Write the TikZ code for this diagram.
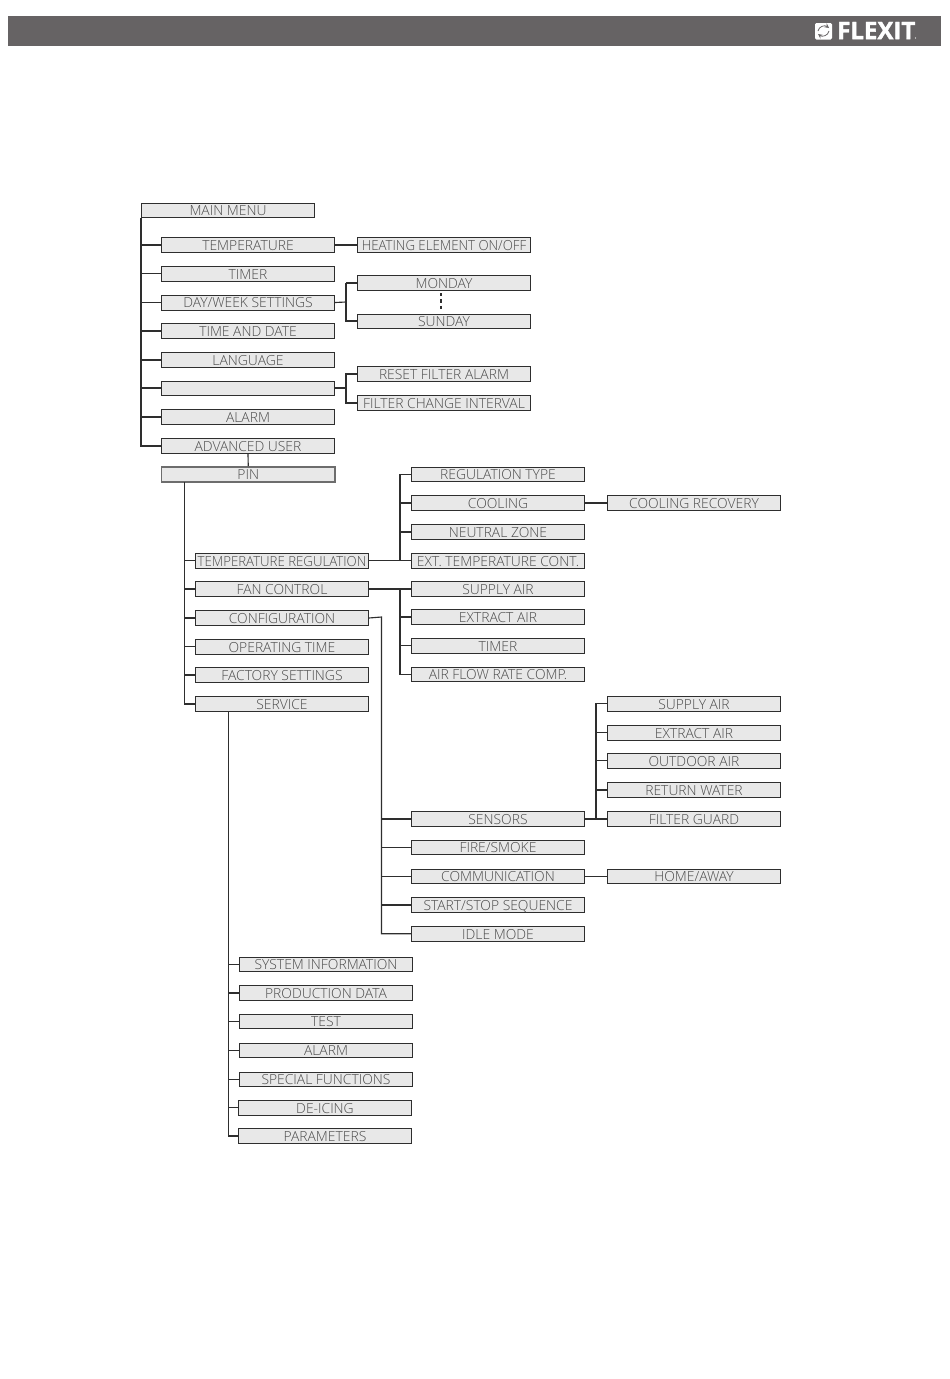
\documentclass[tikz,border=0pt]{standalone}
\usepackage{graphicx}
\usepackage{fontspec}
\setmainfont{Open Sans}[UprightFont=* Light,BoldFont=* Bold]
\newfontfamily\logofont{Open Sans}[UprightFont=* Bold,FakeBold=1.5]
\definecolor{bar}{HTML}{666364}
\definecolor{boxfill}{HTML}{E8E8E8}
\definecolor{ink}{HTML}{2E2E2E}
\definecolor{txt}{HTML}{4A4A4A}
\newcommand{\squeeze}[1]{\scalebox{0.955}[1]{#1}}
\tikzset{
  x=0.75pt,y=-0.75pt,
  menubox/.style={draw=ink,fill=boxfill,line width=0.75pt,inner sep=0pt,text=txt,
    font=\fontsize{10.4pt}{11pt}\selectfont,text height=8pt,text depth=0pt,anchor=center},
  link/.style={draw=ink,line width=0.85pt},
  pinbox/.style={draw=ink!70,line width=1.3pt}
}
% [extra style], name, x1, x2, y1, y2, text
\newcommand{\mbx}[7][]{%
  \pgfmathsetmacro{\bw}{(#4-#3)*0.75}\pgfmathsetmacro{\bh}{(#6-#5)*0.75}%
  \node[menubox,#1,minimum width=\bw pt,minimum height=\bh pt] (#2) at ({(#3+#4)/2},{(#5+#6)/2}) {#7};}
\begin{document}
\begin{tikzpicture}
\useasboundingbox (0,0) rectangle (950,1379);
\fill[white] (0,0) rectangle (950,1379);
% header
\fill[bar] (8,16) rectangle (941,46);
\fill[white,rounded corners=1pt] (815,23) rectangle (832,39.5);
\draw[bar,line width=0.55pt,-stealth] (818,31) .. controls (819,26) and (825,25) .. (829,28);
\draw[bar,line width=0.55pt,-stealth] (829,31) .. controls (828,36) and (822,37) .. (818,34);
\node[text=white,inner sep=0pt,anchor=west,font=\fontsize{18pt}{18pt}\logofont] (logo) at (837,30.5) {FLEXIT};
\fill[white] (915.5,38) circle (0.7);
\mbx{main}{141.5}{314.5}{203.5}{217.5}{MAIN MENU}
\mbx{temp}{161.5}{334.5}{237.5}{252.5}{TEMPERATURE}
\mbx{timer}{161.5}{334.5}{266.5}{281}{TIMER}
\mbx{day}{161.5}{334.5}{295}{310}{DAY/WEEK SETTINGS}
\mbx{tad}{161.5}{334.5}{323.5}{338.5}{TIME AND DATE}
\mbx{lang}{161.5}{334.5}{352.5}{367.5}{LANGUAGE}
\mbx{blank}{161.5}{334.5}{381}{395}{}
\mbx{alarm}{161.5}{334.5}{409.5}{424.5}{ALARM}
\mbx{adv}{161.5}{334.5}{438.5}{453.5}{ADVANCED USER}
\mbx[pinbox]{pin}{161.5}{335}{467}{482}{PIN}
\mbx{heat}{357.5}{530.5}{237.5}{252.5}{\squeeze{HEATING ELEMENT ON/OFF}}
\mbx{mon}{357.5}{530.5}{275.5}{290.5}{MONDAY}
\mbx{sun}{357.5}{530.5}{314}{328}{SUNDAY}
\mbx{reset}{357.5}{530.5}{366.5}{381.5}{RESET FILTER ALARM}
\mbx{fci}{357.5}{530.5}{395.5}{410.5}{FILTER CHANGE INTERVAL}
\mbx{treg}{195.5}{368.5}{553.5}{568}{\squeeze{TEMPERATURE REGULATION}}
\mbx{fan}{195.5}{368.5}{581.5}{596.5}{FAN CONTROL}
\mbx{conf}{195.5}{368.5}{610.5}{625.5}{CONFIGURATION}
\mbx{oper}{195.5}{368.5}{639.5}{654}{OPERATING TIME}
\mbx{fact}{195.5}{368.5}{667.5}{682.5}{FACTORY SETTINGS}
\mbx{serv}{195.5}{368.5}{696.5}{711.5}{SERVICE}
\mbx{rtype}{411.5}{584.5}{467}{481.5}{REGULATION TYPE}
\mbx{cool}{411.5}{584.5}{495.5}{510.5}{COOLING}
\mbx{neut}{411.5}{584.5}{524.5}{539.5}{NEUTRAL ZONE}
\mbx{ext}{411.5}{584.5}{553.5}{568}{EXT. TEMPERATURE CONT.}
\mbx{sup}{411.5}{584.5}{581.5}{596.5}{SUPPLY AIR}
\mbx{extr}{411.5}{584.5}{609.5}{624.5}{EXTRACT AIR}
\mbx{ftimer}{411.5}{584.5}{638.5}{653}{TIMER}
\mbx{afr}{411.5}{584.5}{667}{681.5}{AIR FLOW RATE COMP.}
\mbx{rec}{607.5}{780.5}{495.5}{510.5}{COOLING RECOVERY}
\mbx{ssup}{607.5}{780.5}{696.5}{711}{SUPPLY AIR}
\mbx{sext}{607.5}{780.5}{725.5}{740}{EXTRACT AIR}
\mbx{sout}{607.5}{780.5}{753.5}{768}{OUTDOOR AIR}
\mbx{sret}{607.5}{780.5}{782.5}{797.5}{RETURN WATER}
\mbx{sfil}{607.5}{780.5}{811.5}{826.5}{FILTER GUARD}
\mbx{home}{607.5}{780.5}{869}{883.5}{HOME/AWAY}
\mbx{sens}{411.5}{584.5}{811.5}{826.5}{SENSORS}
\mbx{fire}{411.5}{584.5}{840}{854.5}{FIRE/SMOKE}
\mbx{comm}{411.5}{584.5}{869}{883.5}{COMMUNICATION}
\mbx{start}{411.5}{584.5}{897.5}{912.5}{START/STOP SEQUENCE}
\mbx{idle}{411.5}{584.5}{926.5}{941}{IDLE MODE}
\mbx{sys}{239.5}{412.5}{957}{971.5}{SYSTEM INFORMATION}
\mbx{prod}{239.5}{412.5}{985.5}{1000.5}{PRODUCTION DATA}
\mbx{test}{239.5}{412.5}{1014}{1028.5}{TEST}
\mbx{salarm}{239.5}{412.5}{1043}{1057.5}{ALARM}
\mbx{spec}{239.5}{412.5}{1072}{1086.5}{SPECIAL FUNCTIONS}
\mbx{deice}{238.5}{411.5}{1100.5}{1115}{DE-ICING}
\mbx{param}{238.5}{411.5}{1128.5}{1143.5}{PARAMETERS}
% free ends of the trunks
\coordinate (pintr) at (184.5,482);
\coordinate (daytr) at (346,302);
\coordinate (blanktr) at (346,388);
\coordinate (tregtr) at (400,561);
\coordinate (fantr) at (400,589);
\coordinate (conftr) at (381.5,617);
\coordinate (senstr) at (596,819);
\coordinate (servtr) at (228.5,711.5);
% main menu
\draw[link] (main.south west) |- (adv.west);
\foreach \n in {temp,timer,day,tad,lang,blank,alarm}{\draw[link] (main.south west |- \n.west) -- (\n.west);}
\draw[link] (temp.east) -- (heat.west);
\draw[link] (daytr |- mon.west) -- (mon.west);
\draw[link] (day.east) -- (daytr);
\draw[link] (mon.west -| daytr) -- (sun.west -| daytr) -- (sun.west);
\draw[link,dash pattern=on 2.6pt off 2.2pt] (441,293) -- (441,312);
\draw[link] (blank.east) -- (blanktr);
\draw[link] (reset.west) -- (reset.west -| blanktr) -- (fci.west -| blanktr) -- (fci.west);
\draw[link] (adv.south) -- (pin.north);
% PIN
\draw[link] (pintr) |- (serv.west);
\foreach \n in {treg,fan,conf,oper,fact}{\draw[link] (pintr |- \n.west) -- (\n.west);}
% temperature regulation
\draw[link] (treg.east) -- (ext.west);
\draw[link] (rtype.west) -- (rtype.west -| tregtr) -- (tregtr);
\foreach \n in {cool,neut}{\draw[link] (tregtr |- \n.west) -- (\n.west);}
\draw[link] (cool.east) -- (rec.west);
% fan control
\draw[link] (fan.east) -- (sup.west);
\draw[link] (fantr) |- (afr.west);
\foreach \n in {extr,ftimer}{\draw[link] (fantr |- \n.west) -- (\n.west);}
% configuration
\draw[link] (conf.east) -- (conftr) |- (idle.west);
\foreach \n in {sens,fire,comm,start}{\draw[link] (conftr |- \n.west) -- (\n.west);}
\draw[link] (sens.east) -- (sfil.west);
\draw[link] (ssup.west) -- (ssup.west -| senstr) -- (senstr);
\foreach \n in {sext,sout,sret}{\draw[link] (senstr |- \n.west) -- (\n.west);}
\draw[link] (comm.east) -- (home.west);
% service
\draw[link] (servtr) |- (param.west);
\foreach \n in {sys,prod,test,salarm,spec,deice}{\draw[link] (servtr |- \n.west) -- (\n.west);}
\end{tikzpicture}
\end{document}
